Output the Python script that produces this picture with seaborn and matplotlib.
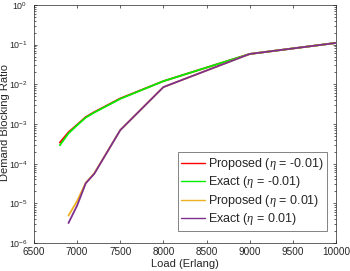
import numpy as np
import pandas as pd
import matplotlib
matplotlib.use("Agg")
import matplotlib.pyplot as plt
import matplotlib.ticker as mticker
import seaborn as sns

# Data
load_a = [6800, 6900, 7000, 7100, 7200, 7500, 8000, 9000, 10000]
proposed_neg = [3.4e-4, 6.2e-4, 9.6e-4, 1.5e-3, 2.0e-3, 4.4e-3, 1.2e-2, 5.8e-2, 1.1e-1]
exact_neg = [2.9e-4, 5.8e-4, 9.3e-4, 1.45e-3, 1.95e-3, 4.3e-3, 1.2e-2, 5.8e-2, 1.1e-1]

load_b = [6900, 7000, 7100, 7200, 7500, 8000, 9000, 10000]
proposed_pos = [4.9e-6, 1.15e-5, 3.3e-5, 5.8e-5, 7.0e-4, 8.5e-3, 5.8e-2, 1.1e-1]
exact_pos = [3.2e-6, 8.8e-6, 3.2e-5, 5.6e-5, 7.0e-4, 8.5e-3, 5.8e-2, 1.1e-1]

labels = ['Proposed ($\\eta$ = -0.01)', 'Exact ($\\eta$ = -0.01)',
          'Proposed ($\\eta$ = 0.01)', 'Exact ($\\eta$ = 0.01)']
colors = ['#ff0000', '#00ee00', '#edb120', '#7e2f8e']

df = pd.concat([
    pd.DataFrame({'load': load_a, 'ratio': proposed_neg, 'series': labels[0]}),
    pd.DataFrame({'load': load_a, 'ratio': exact_neg, 'series': labels[1]}),
    pd.DataFrame({'load': load_b, 'ratio': proposed_pos, 'series': labels[2]}),
    pd.DataFrame({'load': load_b, 'ratio': exact_pos, 'series': labels[3]}),
])

sns.set_style("ticks")
plt.rcParams['font.family'] = ['Liberation Sans', 'DejaVu Sans']
plt.rcParams['mathtext.fontset'] = 'custom'
plt.rcParams['mathtext.rm'] = 'Liberation Sans'
plt.rcParams['mathtext.it'] = 'Liberation Serif:italic'

fig = plt.figure(figsize=(3.5, 2.71), dpi=100)
ax = fig.add_axes([0.097, 0.103, 0.863, 0.879])

sns.lineplot(data=df, x='load', y='ratio', hue='series', hue_order=labels,
             palette=colors, linewidth=1.3, ax=ax, sort=False)

ax.set_yscale('log')
ax.set_xlim(6500, 10000)
ax.set_ylim(1e-6, 1)
ax.set_xticks(range(6500, 10001, 500))
ax.yaxis.set_major_locator(mticker.LogLocator(base=10, numticks=10))
ax.yaxis.set_minor_locator(mticker.LogLocator(base=10, subs=np.arange(2, 10), numticks=10))
ax.yaxis.set_minor_formatter(mticker.NullFormatter())

ax.tick_params(which='both', direction='in', top=True, right=True,
               colors='#262626', length=2.5, width=0.5)
ax.tick_params(which='minor', length=1.5)
ax.tick_params(axis='y', pad=4.5, labelsize=6.4)
ax.tick_params(axis='x', pad=3, labelsize=7.2)
for s in ax.spines.values():
    s.set_color('#262626')
    s.set_linewidth(0.5)

ax.set_xlabel('Load (Erlang)', fontsize=8, labelpad=1)
ax.set_ylabel('Demand Blocking Ratio', fontsize=8)
ax.yaxis.set_label_coords(-0.078, 0.508)

leg = ax.legend(loc='lower right', bbox_to_anchor=(0.97, 0.05), borderaxespad=0,
                fontsize=9, frameon=True, fancybox=False,
                handlelength=1.85, handletextpad=0.25, borderpad=0.3,
                labelspacing=0.2)
leg.get_frame().set_edgecolor('#262626')
leg.get_frame().set_linewidth(0.5)
for line in leg.get_lines():
    line.set_linewidth(1.0)

fig.savefig('out.png', dpi=100)
